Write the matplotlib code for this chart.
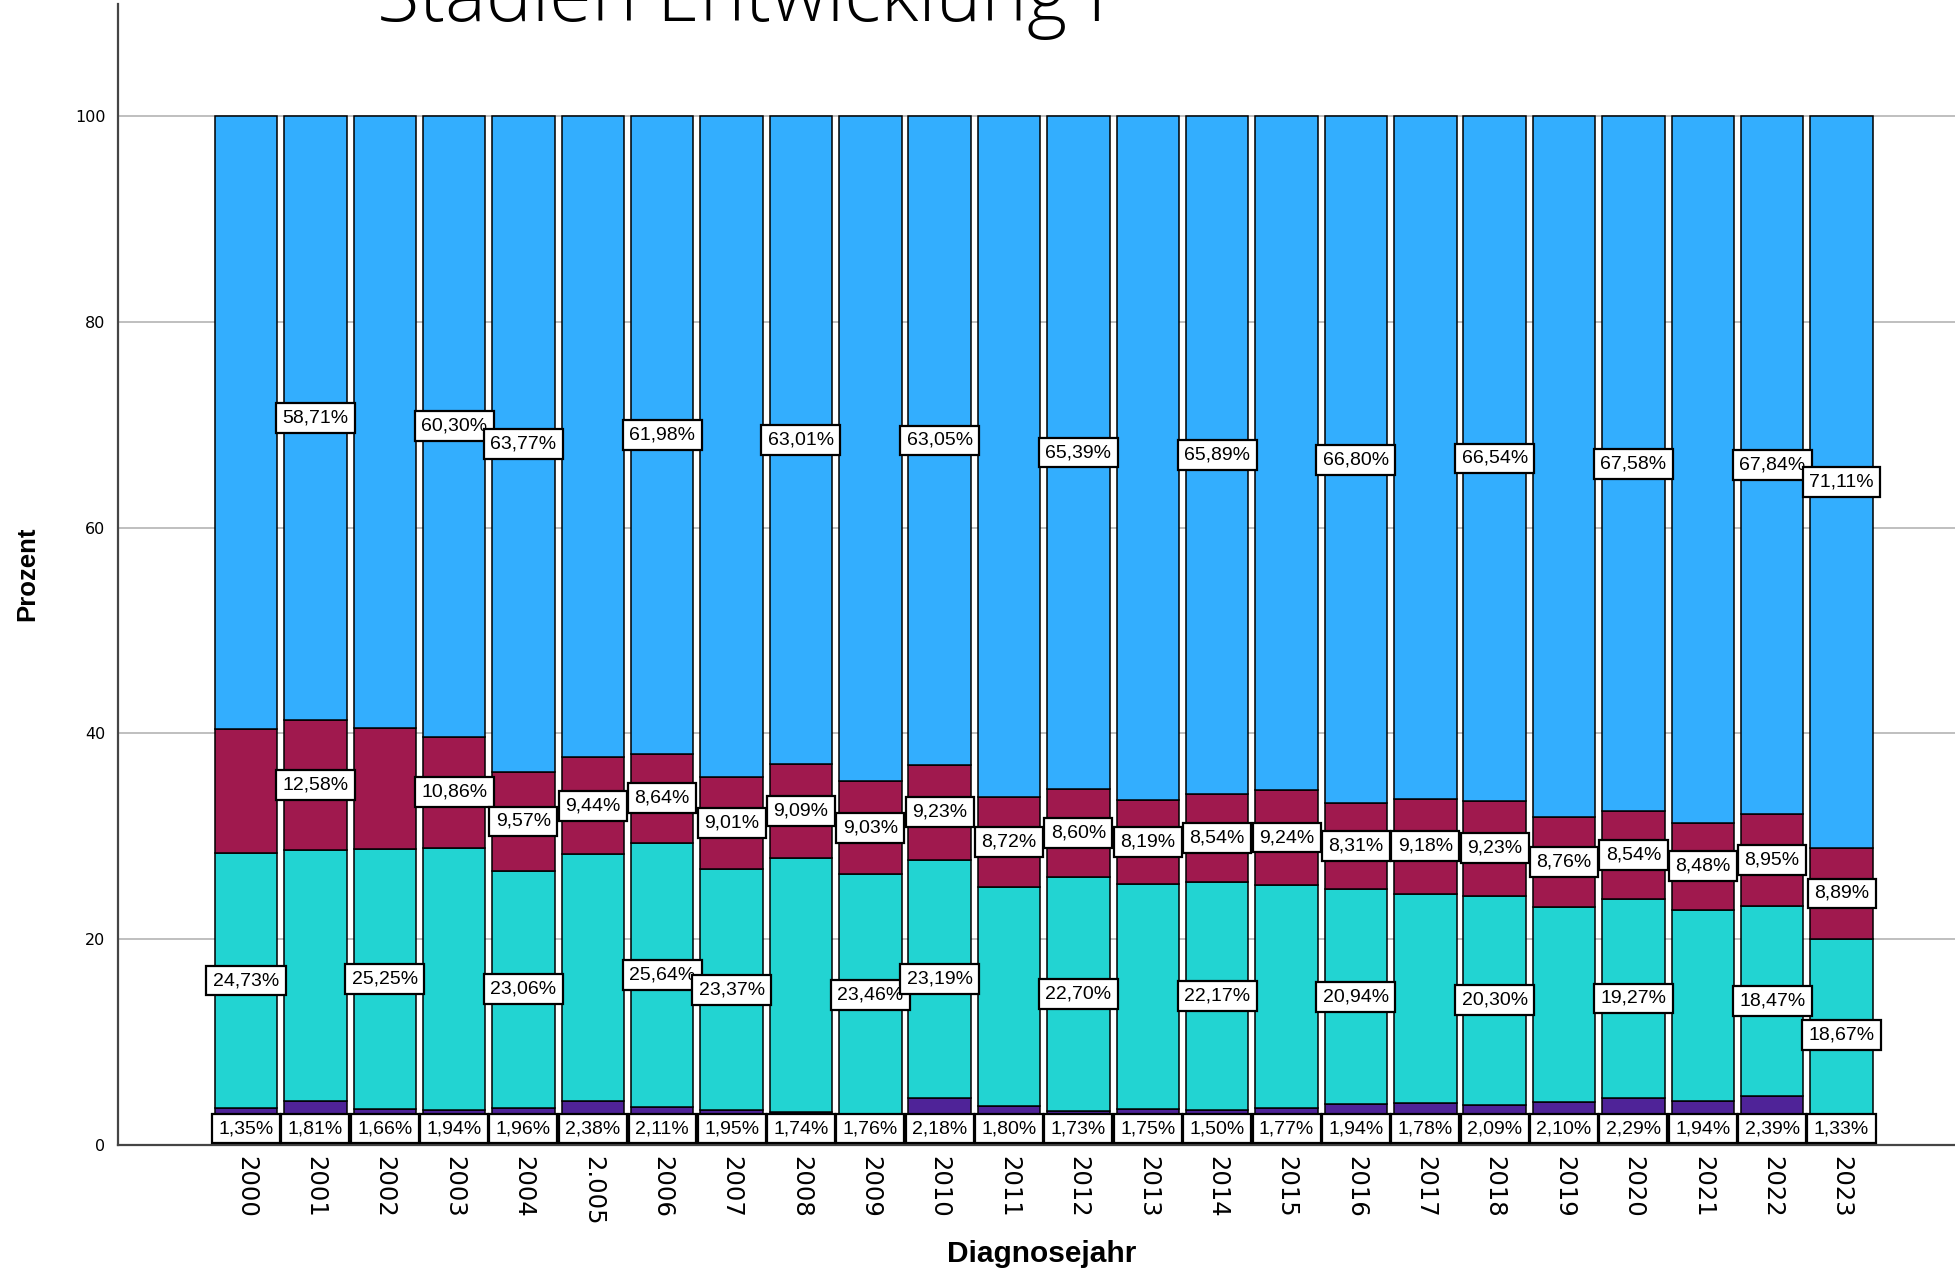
import matplotlib
matplotlib.use("Agg")
import matplotlib.pyplot as plt
import numpy as np

years = ['2000', '2001', '2002', '2003', '2004', '2.005', '2006', '2007', '2008', '2009',
         '2010', '2011', '2012', '2013', '2014', '2015', '2016', '2017', '2018', '2019',
         '2020', '2021', '2022', '2023']

# bottom segment (labelled)
stage_a = [1.35, 1.81, 1.66, 1.94, 1.96, 2.38, 2.11, 1.95, 1.74, 1.76, 2.18, 1.80,
           1.73, 1.75, 1.50, 1.77, 1.94, 1.78, 2.09, 2.10, 2.29, 1.94, 2.39, 1.33]
# purple segment (label hidden)
stage_b = [2.27, 2.50, 1.86, 1.43, 1.64, 1.86, 1.63, 1.47, 1.50, 1.09, 2.35, 1.99,
           1.58, 1.75, 1.90, 1.83, 2.01, 2.27, 1.84, 2.11, 2.32, 2.34, 2.35, 0.00]
stage_c = [24.73, 24.40, 25.25, 25.47, 23.06, 24.00, 25.64, 23.37, 24.66, 23.46, 23.19, 21.28,
           22.70, 21.84, 22.17, 21.66, 20.94, 20.39, 20.30, 18.90, 19.27, 18.56, 18.47, 18.67]
stage_d = [12.05, 12.58, 11.72, 10.86, 9.57, 9.44, 8.64, 9.01, 9.09, 9.03, 9.23, 8.72,
           8.60, 8.19, 8.54, 9.24, 8.31, 9.18, 9.23, 8.76, 8.54, 8.48, 8.95, 8.89]
stage_e = [59.60, 58.71, 59.51, 60.30, 63.77, 62.32, 61.98, 64.20, 63.01, 64.66, 63.05, 66.21,
           65.39, 66.47, 65.89, 65.50, 66.80, 66.38, 66.54, 68.13, 67.58, 68.68, 67.84, 71.11]

# which value labels are visible in the original (others hidden by overlap)
show_a = years[:]
show_b = []
show_c = ['2000', '2002', '2004', '2006', '2007', '2009', '2010', '2012', '2014',
          '2016', '2018', '2020', '2022', '2023']
show_d = [y for y in years if y not in ('2000', '2002')]
show_e = ['2001', '2003', '2004', '2006', '2008', '2010', '2012', '2014', '2016',
          '2018', '2020', '2022', '2023']

series = [stage_a, stage_b, stage_c, stage_d, stage_e]
shows = [show_a, show_b, show_c, show_d, show_e]
colors = ['#1a3f47', '#4f2398', '#22d4d2', '#a0194e', '#33aefe']

W, H = 1956, 1269
fig = plt.figure(figsize=(W / 100, H / 100), dpi=100)
ax = fig.add_axes([118 / W, (H - 1145) / H, 1 - 118 / W, (1145 - 4) / H])

x = np.arange(len(years))
bottom = np.zeros(len(years))
for vals, col in zip(series, colors):
    v = np.array(vals)
    ax.bar(x, v, bottom=bottom, width=0.9, color=col, edgecolor='black',
           linewidth=1.1, zorder=2)
    bottom += v

ax.set_xlim(-1.845, 24.65)
ax.set_ylim(0, 110.9)
ax.set_yticks([0, 20, 40, 60, 80, 100])
ax.yaxis.grid(True, color='#b4b4b4', linewidth=1.2, zorder=0)
ax.set_axisbelow(True)
for s in ['top', 'right']:
    ax.spines[s].set_visible(False)
for s in ['left', 'bottom']:
    ax.spines[s].set_color('#454545')
    ax.spines[s].set_linewidth(1.6)
ax.tick_params(axis='y', length=0, pad=9, labelsize=11.5)
ax.tick_params(axis='x', length=0, pad=8)
ax.set_xticks(x)
ax.set_xticklabels(years, rotation=270, fontsize=17.5, family='DejaVu Sans',
                   va='top', ha='center')
for lab in ax.get_yticklabels():
    lab.set_family('DejaVu Sans')

# value labels
bottom = np.zeros(len(years))
for vals, show in zip(series, shows):
    v = np.array(vals)
    for i, yr in enumerate(years):
        if yr in show:
            cy = bottom[i] + v[i] / 2
            cy = max(cy, 1.6)
            txt = f"{v[i]:.2f}".replace('.', ',') + '%'
            ax.text(i, cy, txt, ha='center', va='center', fontsize=14,
                    family='Liberation Sans', zorder=5,
                    bbox=dict(boxstyle='square,pad=0.33', fc='white', ec='black', lw=1.6))
    bottom += v

fig.text(27 / W, 1 - 574 / H, 'Prozent', rotation=90, ha='center', va='center',
         fontsize=18.5, fontweight='bold', family='Liberation Sans')
fig.text(1042 / W, 1 - 1254 / H, 'Diagnosejahr', ha='center', va='center',
         fontsize=21.5, fontweight='bold', family='Liberation Sans')
fig.text(742 / W, 1 - 21 / H, 'Stadien Entwicklung I', ha='center', va='baseline',
         fontsize=55.5, family='Open Sans', fontweight='light')

fig.savefig('out.png', dpi=100)
